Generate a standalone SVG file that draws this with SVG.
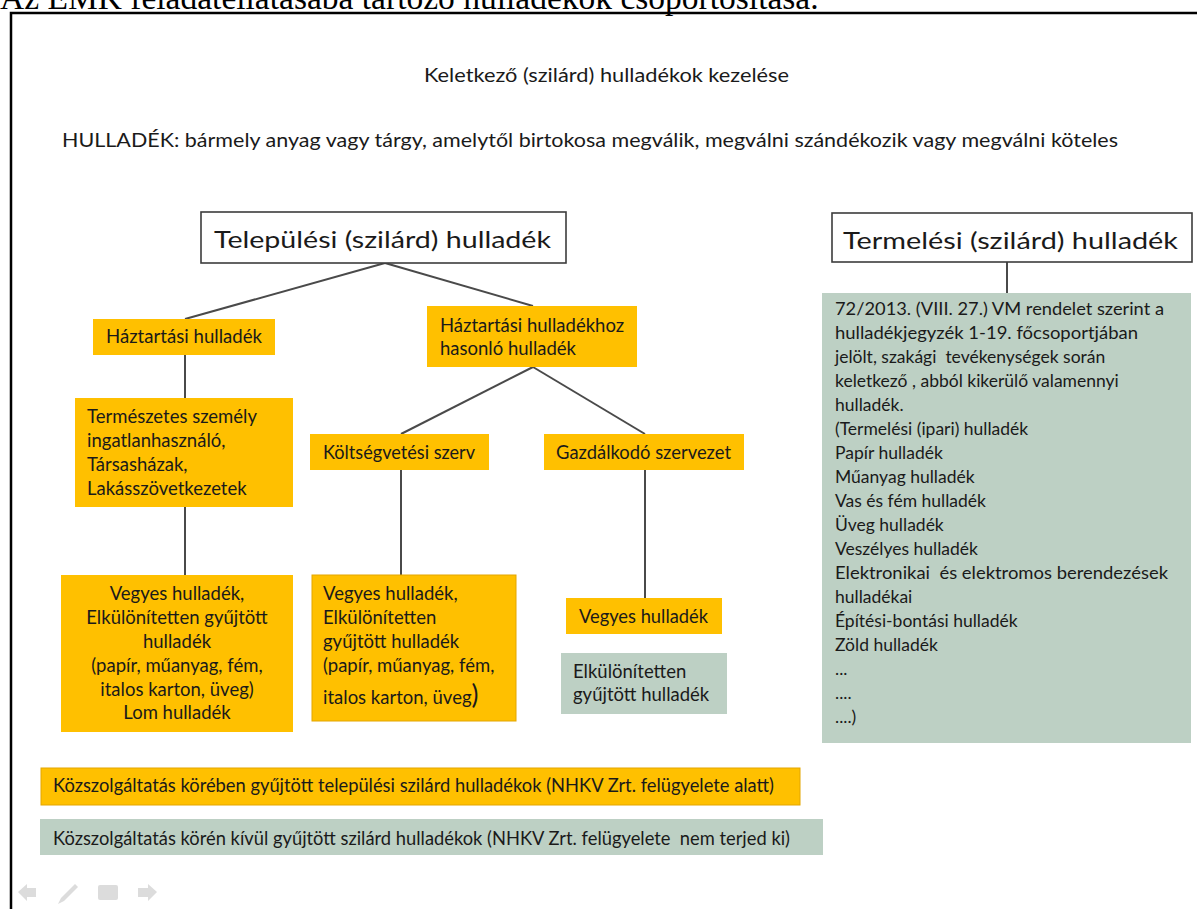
<svg xmlns="http://www.w3.org/2000/svg" width="1197" height="909" viewBox="0 0 1197 909">
<style>
  .t { font-family: Lato, "Open Sans", "Liberation Sans", sans-serif; fill: #1A1A1A; }
  .s18 { font-size: 18.5px; }
  .s17 { font-size: 17.5px; }
  .big { font-size: 24px; }
  .org { fill: #FFC000; }
  .grn { fill: #BDD0C4; }
  .hdr { fill: #FFFFFF; stroke: #3C3C3C; stroke-width: 1.6; }
  .con line { stroke: #4A4A4A; stroke-width: 2; }
  .nav { fill: #DCDCDC; }
</style>
<rect x="0" y="0" width="1197" height="909" fill="#FFFFFF"/>
<text x="0" y="9" font-family="'Liberation Serif', 'Times New Roman', serif" font-size="33.5" fill="#000000">Az EMK feladatellátásába tartozó hulladékok csoportosítása.</text>
<path d="M11,909 V13 H1197" fill="none" stroke="#000000" stroke-width="2.5"/>

<g id="title">
  <text class="t s18" x="424" y="82" textLength="365" lengthAdjust="spacingAndGlyphs">Keletkező (szilárd) hulladékok kezelése</text>
</g>
<g id="definition">
  <text class="t" font-size="19" x="62" y="147" textLength="1056" lengthAdjust="spacingAndGlyphs">HULLADÉK: bármely anyag vagy tárgy, amelytől birtokosa megválik, megválni szándékozik vagy megválni köteles</text>
</g>

<g class="con" id="connectors">
  <line x1="385" y1="263" x2="185" y2="319"/>
  <line x1="385" y1="263" x2="533" y2="306"/>
  <line x1="185" y1="355" x2="185" y2="398"/>
  <line x1="185" y1="507" x2="185" y2="575"/>
  <line x1="533" y1="367" x2="401" y2="434"/>
  <line x1="533" y1="367" x2="645" y2="434"/>
  <line x1="401" y1="470" x2="401" y2="575"/>
  <line x1="645" y1="470" x2="645" y2="598"/>
  <line x1="1007" y1="262" x2="1007" y2="293"/>
</g>

<g id="telepulesi">
  <rect class="hdr" x="201" y="212" width="365" height="51"/>
  <text class="t big" x="214" y="248" textLength="337" lengthAdjust="spacingAndGlyphs">Települési (szilárd) hulladék</text>
</g>
<g id="termelesi">
  <rect class="hdr" x="832" y="213" width="360" height="49"/>
  <text class="t big" x="843" y="249" textLength="335" lengthAdjust="spacingAndGlyphs">Termelési (szilárd) hulladék</text>
</g>

<g id="haztartasi">
  <rect class="org" x="93" y="319" width="182" height="36"/>
  <text class="t s18" x="106" y="343" textLength="156" lengthAdjust="spacingAndGlyphs">Háztartási hulladék</text>
</g>
<g id="hasonlo">
  <rect class="org" x="427" y="306" width="210" height="61"/>
  <text class="t s18" x="440" y="332">Háztartási hulladékhoz</text>
  <text class="t s18" x="440" y="355">hasonló hulladék</text>
</g>
<g id="termeszetes">
  <rect class="org" x="75" y="398" width="218" height="109"/>
  <text class="t s18" x="87" y="423" textLength="170" lengthAdjust="spacingAndGlyphs">Természetes személy</text>
  <text class="t s18" x="87" y="447">ingatlanhasználó,</text>
  <text class="t s18" x="87" y="471">Társasházak,</text>
  <text class="t s18" x="87" y="495">Lakásszövetkezetek</text>
</g>
<g id="koltsegvetesi">
  <rect class="org" x="310" y="434" width="179" height="36"/>
  <text class="t s18" x="323" y="459" textLength="152" lengthAdjust="spacingAndGlyphs">Költségvetési szerv</text>
</g>
<g id="gazdalkodo">
  <rect class="org" x="544" y="434" width="200" height="36"/>
  <text class="t s18" x="556" y="459" textLength="175" lengthAdjust="spacingAndGlyphs">Gazdálkodó szervezet</text>
</g>
<g id="vegyes1">
  <rect class="org" x="61" y="575" width="232" height="157"/>
  <text class="t s18" x="177" y="600" text-anchor="middle">Vegyes hulladék,</text>
  <text class="t s18" x="177" y="624" text-anchor="middle">Elkülönítetten gyűjtött</text>
  <text class="t s18" x="177" y="648" text-anchor="middle">hulladék</text>
  <text class="t s18" x="177" y="672" text-anchor="middle">(papír, műanyag, fém,</text>
  <text class="t s18" x="177" y="696" text-anchor="middle">italos karton, üveg)</text>
  <text class="t s18" x="177" y="719" text-anchor="middle">Lom hulladék</text>
</g>
<g id="vegyes2">
  <rect class="org" x="312" y="575" width="204" height="146" stroke="#E3A600" stroke-width="1"/>
  <text class="t s18" x="323" y="600">Vegyes hulladék,</text>
  <text class="t s18" x="323" y="624">Elkülönítetten</text>
  <text class="t s18" x="323" y="648">gyűjtött hulladék</text>
  <text class="t s18" x="323" y="672">(papír, műanyag, fém,</text>
  <text class="t s18" x="323" y="704">italos karton, üveg<tspan font-size="26">)</tspan></text>
</g>
<g id="vegyes3">
  <rect class="org" x="566" y="598" width="156" height="36"/>
  <text class="t s18" x="579" y="623" textLength="129" lengthAdjust="spacingAndGlyphs">Vegyes hulladék</text>
</g>
<g id="elkulonitetten">
  <rect class="grn" x="561" y="653" width="166" height="61"/>
  <text class="t s18" x="573" y="678">Elkülönítetten</text>
  <text class="t s18" x="573" y="701">gyűjtött hulladék</text>
</g>

<g id="termelesi-lista">
  <rect class="grn" x="822" y="293" width="369" height="450"/>
  <text class="t s17" x="835" y="315" textLength="329" lengthAdjust="spacingAndGlyphs">72/2013. (VIII. 27.) VM rendelet szerint a</text>
  <text class="t s17" x="835" y="339" textLength="303" lengthAdjust="spacingAndGlyphs">hulladékjegyzék 1-19. főcsoportjában</text>
  <text class="t s17" x="835" y="363" xml:space="preserve">jelölt, szakági  tevékenységek során</text>
  <text class="t s17" x="835" y="387">keletkező , abból kikerülő valamennyi</text>
  <text class="t s17" x="835" y="411">hulladék.</text>
  <text class="t s17" x="835" y="435">(Termelési (ipari) hulladék</text>
  <text class="t s17" x="835" y="459">Papír hulladék</text>
  <text class="t s17" x="835" y="483">Műanyag hulladék</text>
  <text class="t s17" x="835" y="507">Vas és fém hulladék</text>
  <text class="t s17" x="835" y="531">Üveg hulladék</text>
  <text class="t s17" x="835" y="555">Veszélyes hulladék</text>
  <text class="t s17" x="835" y="579" xml:space="preserve" textLength="333" lengthAdjust="spacingAndGlyphs">Elektronikai  és elektromos berendezések</text>
  <text class="t s17" x="835" y="603">hulladékai</text>
  <text class="t s17" x="835" y="627">Építési-bontási hulladék</text>
  <text class="t s17" x="835" y="651">Zöld hulladék</text>
  <text class="t s17" x="835" y="675">...</text>
  <text class="t s17" x="835" y="699">....</text>
  <text class="t s17" x="835" y="723">....)</text>
</g>

<g id="kozszolgaltatas-belul">
  <rect class="org" x="41" y="768" width="759" height="37" stroke="#E3A600" stroke-width="1"/>
  <text class="t s18" x="53" y="792" textLength="721" lengthAdjust="spacingAndGlyphs">Közszolgáltatás körében gyűjtött települési szilárd hulladékok (NHKV Zrt. felügyelete alatt)</text>
</g>
<g id="kozszolgaltatas-kivul">
  <rect class="grn" x="40" y="819" width="783" height="36"/>
  <text class="t s18" x="53" y="845" xml:space="preserve" textLength="737" lengthAdjust="spacingAndGlyphs">Közszolgáltatás körén kívül gyűjtött szilárd hulladékok (NHKV Zrt. felügyelete  nem terjed ki)</text>
</g>

<g id="nav-icons" class="nav">
  <polygon points="18,892 27,884 27,888 36,888 36,897 27,897 27,901"/>
  <polygon points="58,904 61,898 75,884 78,887 64,901"/>
  <rect x="98" y="885" width="20" height="15" rx="2"/>
  <polygon points="157,892 148,884 148,888 138,888 138,897 148,897 148,901"/>
</g>
</svg>
